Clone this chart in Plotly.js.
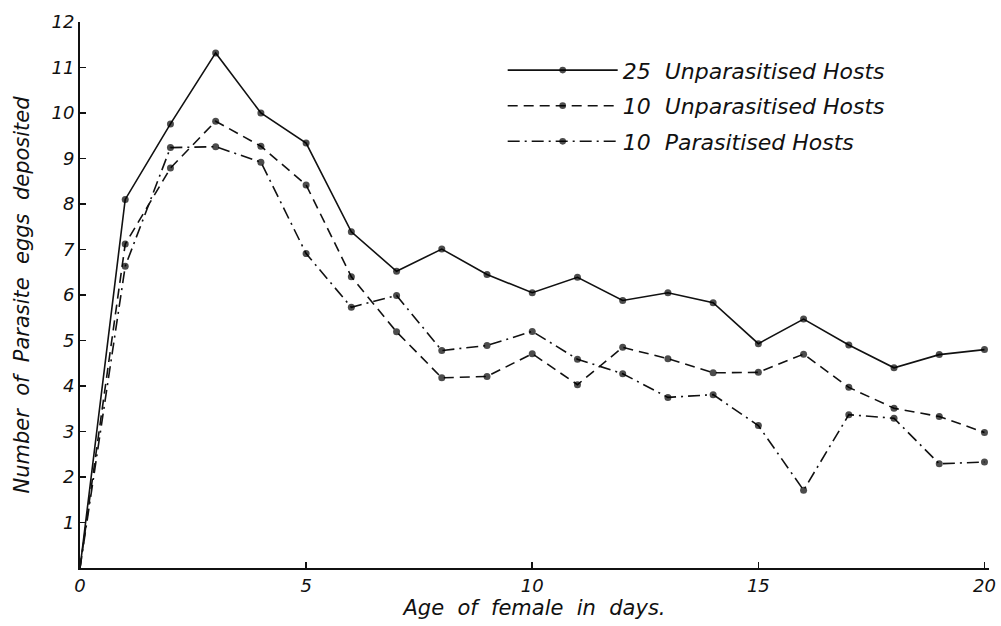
<!DOCTYPE html>
<html>
<head>
<meta charset="utf-8">
<script src="https://cdn.plot.ly/plotly-3.0.1.min.js"></script>
<style>html,body{margin:0;padding:0;background:#fff;}#chart{width:1001px;height:626px;}</style>
</head>
<body>
<div id="chart"></div>
<script>
// Age of female in days
const days = [0,1,2,3,4,5,6,7,8,9,10,11,12,13,14,15,16,17,18,19,20];
// Number of parasite eggs deposited
const unpar25 = [0,8.1,9.76,11.32,10.0,9.34,7.39,6.52,7.01,6.45,6.05,6.39,5.88,6.05,5.83,4.93,5.47,4.9,4.4,4.69,4.8];
const unpar10 = [0,7.12,8.79,9.82,9.27,8.42,6.4,5.19,4.18,4.21,4.71,4.03,4.85,4.6,4.29,4.3,4.7,3.97,3.51,3.33,2.98];
const par10   = [0,6.63,9.24,9.26,8.92,6.91,5.73,5.99,4.78,4.89,5.2,4.59,4.27,3.75,3.81,3.13,1.71,3.37,3.29,2.29,2.33];
const seriesNames = ["25  Unparasitised Hosts","10  Unparasitised Hosts","10  Parasitised Hosts"];
const xTicks = [0,5,10,15,20];
const yTicks = [1,2,3,4,5,6,7,8,9,10,11,12];

const font = {family: "DejaVu Sans", style: "italic", color: "#111"};
const sizes = days.map(d => d === 0 ? 0 : 7);

function tr(y, name, dash, grp) {
  return {
    x: days, y: y, name: name, type: "scatter", mode: "lines+markers",
    legendgroup: grp,
    line: {color: "#111", width: 1.6, dash: dash},
    marker: {color: "#000", size: sizes, line: {width: 0}},
    cliponaxis: false
  };
}

const data = [
  tr(unpar25, seriesNames[0], "solid", "a"),
  tr(unpar10, seriesNames[1], "10px,6px", "b"),
  tr(par10, seriesNames[2], "12px,5px,2px,5px", "c")
];

const layout = {
  width: 1001, height: 626,
  margin: {l: 80, r: 12, t: 22, b: 58},
  paper_bgcolor: "#fff", plot_bgcolor: "#fff",
  font: font,
  showlegend: true,
  legend: {
    x: 0.465, y: 0.95, xanchor: "left", yanchor: "top",
    font: Object.assign({}, font, {size: 22}),
    itemwidth: 110, tracegroupgap: 4, bgcolor: "rgba(0,0,0,0)"
  },
  xaxis: {
    range: [0, 20.1], tickvals: xTicks, ticktext: xTicks.map(String),
    ticks: "inside", ticklen: 6, tickwidth: 1.5, tickcolor: "#111",
    showline: true, linecolor: "#111", linewidth: 2,
    showgrid: false, zeroline: false,
    tickfont: Object.assign({}, font, {size: 18}),
    title: {text: "Age  of  female  in  days.", font: Object.assign({}, font, {size: 21}), standoff: 6}
  },
  yaxis: {
    range: [0, 12], tickvals: yTicks, ticktext: yTicks.map(String),
    ticks: "inside", ticklen: 6, tickwidth: 1.5, tickcolor: "#111",
    showline: true, linecolor: "#111", linewidth: 2,
    showgrid: false, zeroline: false,
    tickfont: Object.assign({}, font, {size: 18}),
    title: {text: "Number  of  Parasite  eggs  deposited", font: Object.assign({}, font, {size: 21}), standoff: 16}
  }
};

Plotly.newPlot("chart", data, layout, {displayModeBar: false, staticPlot: true});
</script>
</body>
</html>
